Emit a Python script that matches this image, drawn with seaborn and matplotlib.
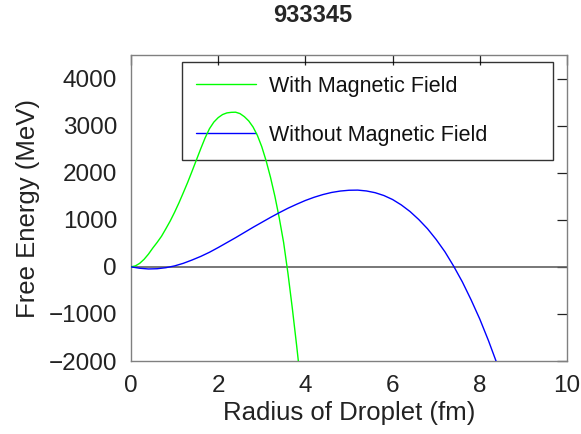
import numpy as np
import pandas as pd
import seaborn as sns
from matplotlib import pyplot as plt

# radius (fm) and free energy (MeV)
r_with = [0.0, 0.1, 0.2, 0.3, 0.4, 0.5, 0.6, 0.7, 0.8, 0.9, 1.0, 1.1, 1.2, 1.3,
          1.4, 1.5, 1.6, 1.7, 1.8, 1.9, 2.0, 2.1, 2.2, 2.3, 2.4, 2.5, 2.6, 2.7,
          2.8, 2.9, 3.0, 3.1, 3.2, 3.3, 3.4, 3.5, 3.6, 3.7, 3.8, 3.9]
f_with = [0, 20, 75, 160, 270, 400, 520, 650, 810, 975, 1160, 1360, 1575, 1795,
          2030, 2270, 2510, 2740, 2935, 3075, 3170, 3235, 3270, 3282, 3285, 3255,
          3190, 3100, 2970, 2790, 2550, 2250, 1900, 1500, 1040, 520, -140, -880,
          -1680, -2520]

r_without = [0.0, 0.2, 0.4, 0.6, 0.8, 1.0, 1.2, 1.4, 1.6, 1.8, 2.0, 2.2, 2.4,
             2.6, 2.8, 3.0, 3.2, 3.4, 3.6, 3.8, 4.0, 4.2, 4.4, 4.6, 4.8, 5.0,
             5.2, 5.4, 5.6, 5.8, 6.0, 6.2, 6.4, 6.6, 6.8, 7.0, 7.2, 7.4, 7.6,
             7.8, 8.0, 8.2, 8.4, 8.6]
f_without = [0, -30, -45, -40, -18, 20, 75, 145, 222, 310, 410, 515, 620,
             730, 840, 945, 1050, 1150, 1245, 1330, 1410, 1478, 1535, 1580,
             1610, 1627, 1630, 1612, 1575, 1515, 1430, 1315, 1175, 1005, 810,
             580, 320, 15, -320, -700, -1110, -1570, -2070, -2600]

x_ticks = [0, 2, 4, 6, 8, 10]
y_ticks = [-2000, -1000, 0, 1000, 2000, 3000, 4000]

sns.set_theme(style="white")
plt.rcParams["font.family"] = ["Liberation Sans", "DejaVu Sans"]

fig = plt.figure(figsize=(5.81, 4.34), dpi=100)
ax = fig.add_axes([131 / 581, 1 - 361 / 434, 436 / 581, 306 / 434])

d1 = pd.DataFrame({"r": r_with, "F": f_with})
d2 = pd.DataFrame({"r": r_without, "F": f_without})
sns.lineplot(data=d1, x="r", y="F", ax=ax, color="#00ff00", lw=1.0,
             label="With Magnetic Field", zorder=3)
sns.lineplot(data=d2, x="r", y="F", ax=ax, color="#0000ff", lw=1.0,
             label="Without Magnetic Field", zorder=3)
ax.axhline(0, color="#606060", lw=1.2, zorder=1)

ax.set_xlim(0, 10)
ax.set_ylim(-2000, 4500)
ax.set_xticks(x_ticks)
ax.set_yticks(y_ticks)
ax.tick_params(direction="in", length=7, width=0.9, color="#222222",
               top=True, right=True, labelsize=17.5, labelcolor="#222222",
               pad=10)
for s in ax.spines.values():
    s.set_color("#808080")
    s.set_linewidth(1.0)

ax.set_xlabel("Radius of Droplet (fm)", fontsize=18.5, color="#222222", labelpad=3)
ax.set_ylabel("Free Energy (MeV)", fontsize=18.5, color="#222222", labelpad=6)
fig.text(313 / 581, 1 - 16 / 434, "933345", fontsize=17, fontweight="bold",
         ha="center", va="center")

leg = ax.legend(loc="upper left", mode="expand",
                bbox_to_anchor=(182 / 581, 0, 371 / 581, 1 - 62 / 434),
                bbox_transform=fig.transFigure, borderaxespad=0,
                fontsize=15.5, handlelength=2.8, handletextpad=0.6,
                labelspacing=1.3, borderpad=0.65, fancybox=False)
leg.get_frame().set_edgecolor("black")
leg.get_frame().set_facecolor("none")
leg.get_frame().set_linewidth(1.0)
leg.set_zorder(2)
for t in leg.get_texts():
    t.set_color("#111111")

fig.savefig("out.png", dpi=100)
